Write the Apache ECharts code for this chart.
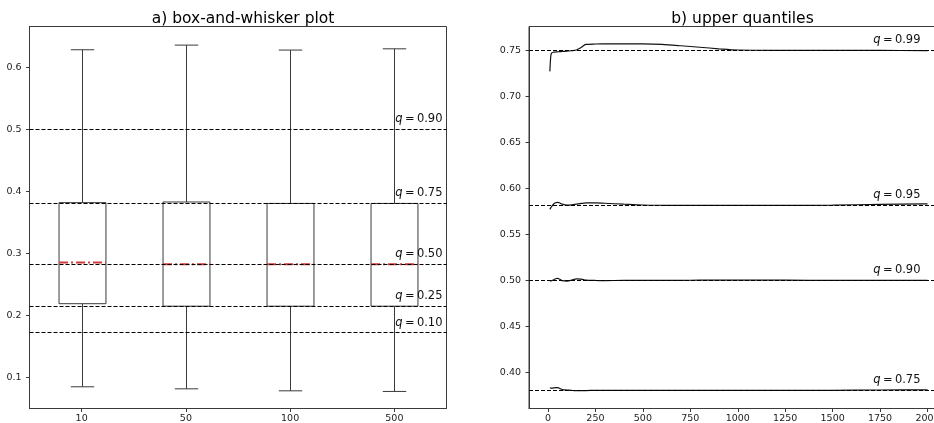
<!DOCTYPE html>
<html>
<head>
<meta charset="utf-8">
<script src="https://cdn.jsdelivr.net/npm/echarts@6/dist/echarts.min.js"></script>
<style>
  html, body { margin: 0; padding: 0; background: #fff; }
  #chart { width: 934px; height: 423px; }
</style>
</head>
<body>
<div id="chart"></div>
<script>
// ---- a) box-and-whisker data ----
const sampleSizes = ['10', '50', '100', '500'];
const whiskerLow  = [0.0850, 0.0817, 0.0785, 0.0775];
const quart1      = [0.2190, 0.2150, 0.2150, 0.2150];
const medians     = [0.2855, 0.2828, 0.2828, 0.2828];
const quart3      = [0.3820, 0.3830, 0.3807, 0.3807];
const whiskerHigh = [0.6285, 0.6360, 0.6280, 0.6300];

// theoretical quantiles drawn as dashed references
const leftQLabels = ['0.90', '0.75', '0.50', '0.25', '0.10'];
const leftQValues = [0.5000, 0.3810, 0.2823, 0.2145, 0.1725];
const leftTicks   = [0.1, 0.2, 0.3, 0.4, 0.5, 0.6];

// ---- b) running upper quantiles vs. n ----
const nValues = [10, 15, 20, 30, 40, 50, 60, 75, 100, 125, 150, 175, 200, 250, 300, 400,
                 500, 600, 700, 800, 900, 1000, 1250, 1500, 1750, 2000];
const q99 = [0.7270, 0.7440, 0.7470, 0.7478, 0.7480, 0.7482, 0.7484, 0.7486, 0.7490, 0.7494,
             0.7502, 0.7530, 0.7562, 0.7567, 0.7568, 0.7570, 0.7569, 0.7562, 0.7548, 0.7532,
             0.7515, 0.7502, 0.7498, 0.7497, 0.7497, 0.7496];
const q95 = [0.5772, 0.5790, 0.5805, 0.5830, 0.5843, 0.5848, 0.5843, 0.5828, 0.5818, 0.5820,
             0.5828, 0.5836, 0.5842, 0.5843, 0.5838, 0.5828, 0.5819, 0.5816, 0.5815, 0.5815,
             0.5815, 0.5815, 0.5815, 0.5818, 0.5826, 0.5832];
const q90 = [0.4995, 0.4996, 0.4998, 0.5008, 0.5018, 0.5022, 0.5016, 0.4998, 0.4993, 0.5003,
             0.5018, 0.5015, 0.5003, 0.5000, 0.4999, 0.5000, 0.5000, 0.5001, 0.5002, 0.5003,
             0.5004, 0.5005, 0.5003, 0.5001, 0.5000, 0.5000];
const q75 = [0.3833, 0.3832, 0.3831, 0.3833, 0.3837, 0.3836, 0.3830, 0.3815, 0.3811, 0.3806,
             0.3803, 0.3803, 0.3805, 0.3806, 0.3806, 0.3806, 0.3806, 0.3806, 0.3806, 0.3806,
             0.3806, 0.3806, 0.3806, 0.3807, 0.3811, 0.3812];
const rightQLabels = ['0.99', '0.95', '0.90', '0.75'];
const rightQValues = [0.7503, 0.5815, 0.5000, 0.3808];
const rightYTicks  = [0.40, 0.45, 0.50, 0.55, 0.60, 0.65, 0.70, 0.75];
const rightXTicks  = [0, 250, 500, 750, 1000, 1250, 1500, 1750, 2000];

const FONT = 'DejaVu Sans';
const AXIS_COLOR = '#3a3a3a';

function pairs(xs, ys) { return xs.map((x, i) => [x, ys[i]]); }

function refLines(labels, values, rightPad) {
  return {
    silent: true,
    symbol: 'none',
    animation: false,
    precision: 4,
    lineStyle: { color: '#000', width: 1, type: [4, 2] },
    label: {
      show: true,
      position: 'insideEndTop',
      distance: 4,
      padding: [0, rightPad, 0, 0],
      fontFamily: FONT,
      fontSize: 11.5,
      color: '#111',
      formatter: p => '{i|q}\u2009=\u2009' + p.data.tag,
      rich: { i: { fontStyle: 'italic', fontFamily: FONT, fontSize: 11.5, color: '#111' } }
    },
    data: values.map((v, k) => ({ yAxis: v, tag: labels[k] }))
  };
}

function quantileLine(ys) {
  return {
    type: 'line', xAxisIndex: 1, yAxisIndex: 1,
    data: pairs(nValues, ys),
    showSymbol: false, symbol: 'none',
    lineStyle: { color: '#111', width: 1.2 },
    smooth: 0.3, silent: true
  };
}

const boxData = sampleSizes.map((c, i) =>
  [i, whiskerLow[i], quart1[i], medians[i], quart3[i], whiskerHigh[i]]);

function renderBox(params, api) {
  const idx = api.value(0);
  const band = api.size([1, 0])[0];
  const half = band * 0.225;
  const cap = band * 0.1125;
  const pLow = api.coord([idx, api.value(1)]);
  const pQ1 = api.coord([idx, api.value(2)]);
  const pMed = api.coord([idx, api.value(3)]);
  const pQ3 = api.coord([idx, api.value(4)]);
  const pHigh = api.coord([idx, api.value(5)]);
  const cx = Math.round(pLow[0]) + 0.5;
  const st = { stroke: AXIS_COLOR, lineWidth: 1, fill: null };
  return {
    type: 'group',
    children: [
      { type: 'line', shape: { x1: cx, y1: pQ1[1], x2: cx, y2: pLow[1] }, style: st },
      { type: 'line', shape: { x1: cx, y1: pQ3[1], x2: cx, y2: pHigh[1] }, style: st },
      { type: 'line', shape: { x1: cx - cap, y1: pLow[1], x2: cx + cap, y2: pLow[1] }, style: st },
      { type: 'line', shape: { x1: cx - cap, y1: pHigh[1], x2: cx + cap, y2: pHigh[1] }, style: st },
      { type: 'rect', shape: { x: cx - half, y: pQ3[1], width: half * 2, height: pQ1[1] - pQ3[1] }, style: st },
      { type: 'line', z2: 10, shape: { x1: cx - half, y1: pMed[1], x2: cx + half, y2: pMed[1] },
        style: { stroke: '#d23a3a', lineWidth: 2, lineDash: [9, 3, 2, 3] } }
    ]
  };
}

const chart = echarts.init(document.getElementById('chart'), null, { renderer: 'canvas' });
chart.setOption({
  animation: false,
  backgroundColor: '#fff',
  title: [
    { text: 'a) box-and-whisker plot', left: 238, top: 6, textAlign: 'center',
      textStyle: { fontFamily: FONT, fontSize: 15.5, fontWeight: 'normal', color: '#000' } },
    { text: 'b) upper quantiles', left: 737.5, top: 6, textAlign: 'center',
      textStyle: { fontFamily: FONT, fontSize: 15.5, fontWeight: 'normal', color: '#000' } }
  ],
  grid: [
    { left: 29.5, top: 26.5, width: 417, height: 382, show: true, outerBoundsMode: 'none',
      borderColor: AXIS_COLOR, borderWidth: 1, backgroundColor: 'transparent' },
    // panel b's frame extends past the right page edge
    { left: 529, top: 26.5, width: 417.5, height: 382, show: true, outerBoundsMode: 'none',
      borderColor: AXIS_COLOR, borderWidth: 1, backgroundColor: 'transparent' }
  ],
  xAxis: [
    { type: 'category', gridIndex: 0, data: sampleSizes, boundaryGap: true,
      axisLine: { show: true, onZero: false, lineStyle: { color: AXIS_COLOR } },
      axisTick: { show: true, alignWithLabel: true, length: 3.5, lineStyle: { color: AXIS_COLOR } },
      axisLabel: { fontFamily: FONT, fontSize: 9.5, color: '#222', margin: 5 },
      splitLine: { show: false } },
    { type: 'value', gridIndex: 1, min: -100, max: 2100,
      axisLine: { show: true, onZero: false, lineStyle: { color: AXIS_COLOR } },
      axisTick: { show: true, length: 3.5, customValues: rightXTicks, lineStyle: { color: AXIS_COLOR } },
      axisLabel: { fontFamily: FONT, fontSize: 9.5, color: '#222', margin: 5, customValues: rightXTicks,
                   formatter: v => String(Math.round(v)) },
      splitLine: { show: false } }
  ],
  yAxis: [
    { type: 'value', gridIndex: 0, min: 0.05, max: 0.666,
      axisLine: { show: true, onZero: false, lineStyle: { color: AXIS_COLOR } },
      axisTick: { show: true, length: 3.5, customValues: leftTicks, lineStyle: { color: AXIS_COLOR } },
      axisLabel: { fontFamily: FONT, fontSize: 9.5, color: '#222', margin: 8, customValues: leftTicks,
                   formatter: v => v.toFixed(1) },
      splitLine: { show: false } },
    { type: 'value', gridIndex: 1, min: 0.361, max: 0.7757,
      axisLine: { show: true, onZero: false, lineStyle: { color: AXIS_COLOR } },
      axisTick: { show: true, length: 3.5, customValues: rightYTicks, lineStyle: { color: AXIS_COLOR } },
      axisLabel: { fontFamily: FONT, fontSize: 9.5, color: '#222', margin: 8, customValues: rightYTicks,
                   formatter: v => v.toFixed(2) },
      splitLine: { show: false } }
  ],
  series: [
    { type: 'line', xAxisIndex: 0, yAxisIndex: 0, data: [], silent: true,
      markLine: refLines(leftQLabels, leftQValues, 0) },
    { type: 'custom', xAxisIndex: 0, yAxisIndex: 0, data: boxData, renderItem: renderBox,
      encode: { x: 0, y: [1, 2, 3, 4, 5] }, silent: true, z: 3 },
    { type: 'line', xAxisIndex: 1, yAxisIndex: 1, data: [], silent: true,
      markLine: refLines(rightQLabels, rightQValues, 22) },
    quantileLine(q99),
    quantileLine(q95),
    quantileLine(q90),
    quantileLine(q75)
  ]
});
</script>
</body>
</html>
